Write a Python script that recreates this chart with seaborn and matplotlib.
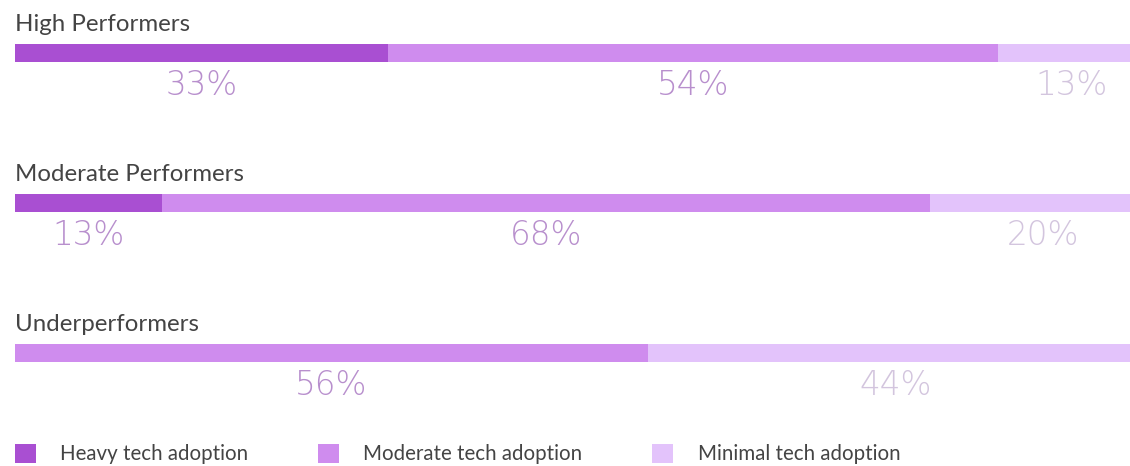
import matplotlib
matplotlib.use("Agg")
import matplotlib.pyplot as plt
from matplotlib.patches import Patch
import pandas as pd
import seaborn as sns

# chart data
groups = ["High Performers", "Moderate Performers", "Underperformers"]
heavy = [33, 13, 0]
moderate = [54, 68, 56]
minimal = [13, 20, 44]
series_names = ["Heavy tech adoption", "Moderate tech adoption", "Minimal tech adoption"]

colors = ["#a94fd2", "#cf8cee", "#e3c3fb"]
label_colors = ["#b88fcd", "#b88fcd", "#d3c5de"]

sns.set_style("white")
plt.rcParams["font.family"] = ["Lato", "DejaVu Sans"]

df = pd.DataFrame({"group": groups, "heavy": heavy, "moderate": moderate, "minimal": minimal})
df["c1"] = df["heavy"]
df["c2"] = df["c1"] + df["moderate"]
df["c3"] = df["c2"] + df["minimal"]

fig = plt.figure(figsize=(11.3, 4.66), dpi=100)
ax = fig.add_axes([15 / 1130, 0, 1115 / 1130, 1])

# stacked bars: draw the totals first, then overlay the shorter pieces
for col, c in zip(["c3", "c2", "c1"], colors[::-1]):
    sns.barplot(data=df, x=col, y="group", orient="h", color=c, saturation=1,
                width=0.12, linewidth=0, ax=ax)

# category i centred at about 53 + 150*i px from the top
top, step = 53, 150
ax.set_ylim((466 - top) / step, -top / step)
ax.set_xlim(0, 98.7)  # the bars run slightly past the right edge
ax.axis("off")

for i, g in enumerate(groups):
    ax.text(0, i - 0.145, g, ha="left", va="baseline", fontsize=17.3, color="#444444")
    starts = [0, df["c1"][i], df["c2"][i]]
    vals = [heavy[i], moderate[i], minimal[i]]
    for s, v, lc in zip(starts, vals, label_colors):
        if v == 0:
            continue
        ax.text(s + v / 2, i + 0.215, f"{v}%", ha="center", va="center",
                fontsize=23.5, color=lc, family="DejaVu Sans", fontweight="light")

handles = [Patch(facecolor=c, edgecolor="none") for c in colors]
fig.legend(handles, series_names, loc="center left", bbox_to_anchor=(15 / 1130, 0.025),
           ncol=3, frameon=False, fontsize=14.8, labelcolor="#444444", borderpad=0,
           borderaxespad=0, handlelength=1.0, handleheight=1.0, handletextpad=1.2,
           columnspacing=3.4)

fig.savefig("out.png", dpi=100)
